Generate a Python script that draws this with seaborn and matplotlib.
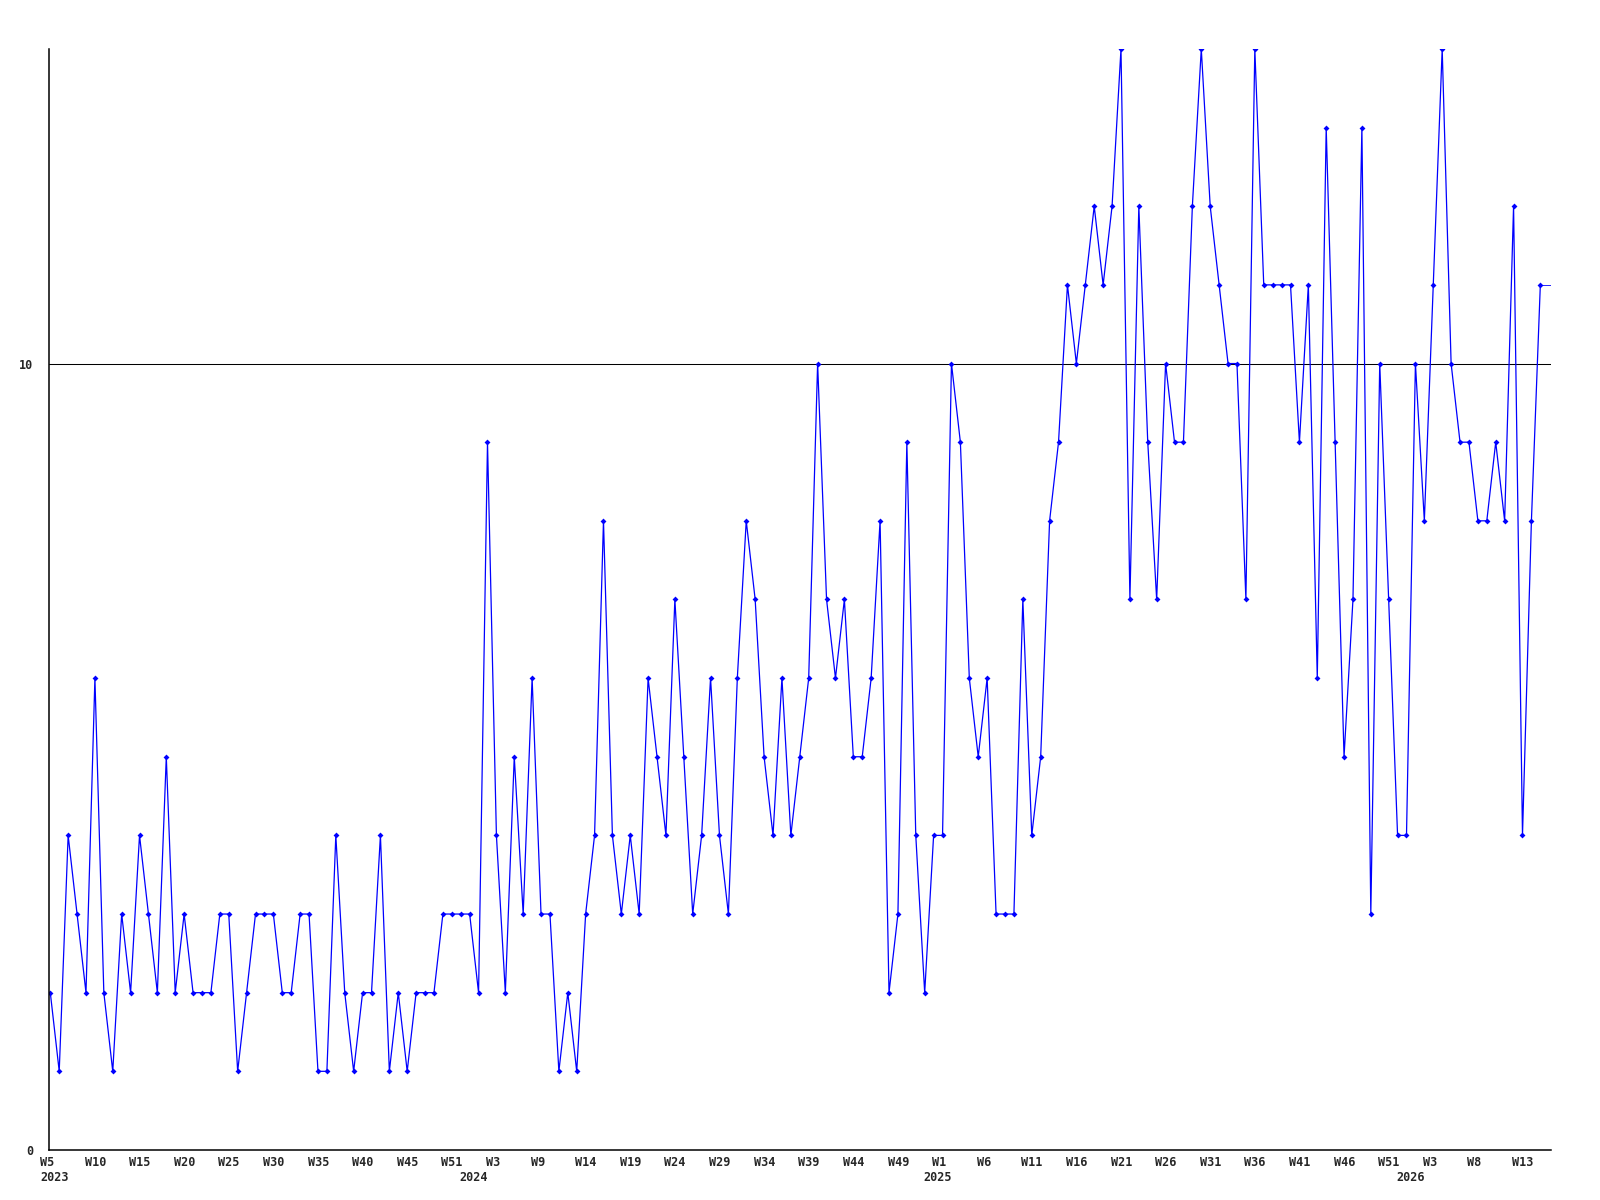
import numpy as np
import pandas as pd
import matplotlib
matplotlib.use("Agg")
import matplotlib.pyplot as plt
import matplotlib.transforms as mtransforms
import seaborn as sns

# weekly counts, 2023 W5 .. 2026 W15
values = [
    2, 1, 4, 3, 2, 6, 2, 1, 3, 2, 4, 3, 2, 5, 2, 3, 2, 2, 2, 3,
    3, 1, 2, 3, 3, 3, 2, 2, 3, 3, 1, 1, 4, 2, 1, 2, 2, 4, 1, 2,
    1, 2, 2, 2, 3, 3, 3, 3, 2, 9, 4, 2, 5, 3, 6, 3, 3, 1, 2, 1,
    3, 4, 8, 4, 3, 4, 3, 6, 5, 4, 7, 5, 3, 4, 6, 4, 3, 6, 8, 7,
    5, 4, 6, 4, 5, 6, 10, 7, 6, 7, 5, 5, 6, 8, 2, 3, 9, 4, 2, 4,
    4, 10, 9, 6, 5, 6, 3, 3, 3, 7, 4, 5, 8, 9, 11, 10, 11, 12, 11, 12,
    14, 7, 12, 9, 7, 10, 9, 9, 12, 14, 12, 11, 10, 10, 7, 14, 11, 11, 11, 11,
    9, 11, 6, 13, 9, 5, 7, 13, 3, 10, 7, 4, 4, 10, 8, 11, 14, 10, 9, 9,
    8, 8, 9, 8, 12, 4, 8, 11,
]

week_labels = [
    "W5", "W10", "W15", "W20", "W25", "W30", "W35", "W40", "W45", "W51",
    "W3", "W9", "W14", "W19", "W24", "W29", "W34", "W39", "W44", "W49",
    "W1", "W6", "W11", "W16", "W21", "W26", "W31", "W36", "W41", "W46", "W51",
    "W3", "W8", "W13",
]
year_labels = ["2023", "2024", "2025", "2026"]
year_pos = [0, 47, 99, 152]

y_ticks = [0, 10]

df = pd.DataFrame({"week": np.arange(len(values)), "count": values})

sns.set_style("white")
plt.rcParams["font.family"] = ["DejaVu Sans Mono"]
plt.rcParams["font.weight"] = "bold"

fig = plt.figure(figsize=(16, 12), dpi=100)
ax = fig.add_axes([0.0306, 0.0417, 0.9388, 0.9175])

sns.lineplot(
    data=df, x="week", y="count", ax=ax,
    color="#0000ff", linewidth=0.9,
    marker="D", markersize=3, markeredgewidth=0,
)

# line carried on to the right edge at the last value
x_end = len(values) - 1 + 1.2
ax.plot([df["week"].iloc[-1], x_end], [values[-1], values[-1]],
        color="#0000ff", linewidth=0.6)

ax.set_xlim(-0.15, x_end)
ax.set_ylim(0, 14)

ax.set_yticks(y_ticks)
ax.set_yticklabels([str(v) for v in y_ticks], fontsize=8.5, fontweight="bold")
ax.set_xticks(np.arange(0, 5 * len(week_labels), 5))
ax.set_xticklabels(week_labels, fontsize=8.5, fontweight="bold", ha="left")
ax.tick_params(axis="both", length=0)
ax.tick_params(axis="y", pad=11.5)
ax.tick_params(axis="x", pad=4.5)

shift = mtransforms.ScaledTranslation(-10.4 / 100, 0, fig.dpi_scale_trans)
for lab in ax.get_xticklabels():
    lab.set_transform(lab.get_transform() + shift)

for year, pos in zip(year_labels, year_pos):
    ax.annotate(year, xy=(pos, 0), xycoords=("data", "axes fraction"),
                xytext=(-7.5, -15), textcoords="offset points",
                ha="left", va="top", fontsize=8.5, fontweight="bold")

ax.axhline(10, color="black", linewidth=0.75, zorder=0)

ax.set_xlabel("")
ax.set_ylabel("")
for side in ["top", "right"]:
    ax.spines[side].set_visible(False)
for side in ["left", "bottom"]:
    ax.spines[side].set_color("black")
    ax.spines[side].set_linewidth(1.1)

fig.savefig("out.png", dpi=100, facecolor="white")
